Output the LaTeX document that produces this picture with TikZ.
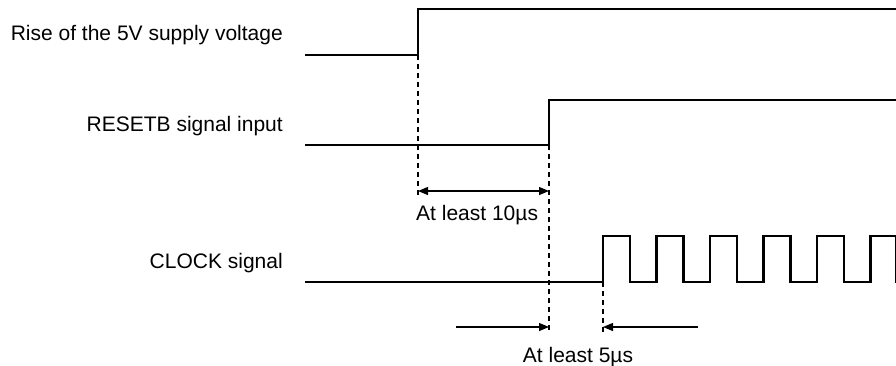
\documentclass[tikz,border=0pt]{standalone}
\usepackage{fontspec}
\setmainfont{Liberation Sans}
\usetikzlibrary{arrows.meta}
\begin{document}
\begin{tikzpicture}[x=1pt,y=-1pt,
  sig/.style={line width=2.6pt,line join=miter,line cap=rect},
  guide/.style={line width=1.2pt,dash pattern=on 5pt off 4pt},
  dim/.style={line width=1.2pt},
  tip/.style={-{Triangle[length=10pt,width=8pt]}},
  lbl/.style={font=\fontsize{21}{24}\selectfont,inner sep=0pt}]
\useasboundingbox (0,0) rectangle (896,365);
% labels
\node[lbl,anchor=base east] (l1) at (283,40) {Rise of the 5V supply voltage};
\node[lbl,anchor=base east] (l2) at (283,131) {RESETB signal input};
\node[lbl,anchor=base east] (l3) at (283,268) {CLOCK signal};
% 5V supply
\coordinate (a0) at (306,55);
\coordinate (a1) at (418,55);
\coordinate (a2) at (418,9);
\coordinate (a3) at (897,9);
\draw[sig] (a0) -- (a1) -- (a2) -- (a3);
% RESETB
\coordinate (b0) at (306,145);
\coordinate (b1) at (549,145);
\coordinate (b2) at (549,100);
\coordinate (b3) at (897,100);
\draw[sig] (b0) -- (b1) -- (b2) -- (b3);
% CLOCK
\coordinate (c0) at (306,282);
\coordinate (c1) at (603,282);
\draw[sig] (c0) -- (c1)
  -- ++(0,-46) -- ++(27,0) -- ++(0,46) -- ++(26.5,0)
  -- ++(0,-46) -- ++(27,0) -- ++(0,46) -- ++(26.5,0)
  -- ++(0,-46) -- ++(27,0) -- ++(0,46) -- ++(26.5,0)
  -- ++(0,-46) -- ++(27,0) -- ++(0,46) -- ++(26.5,0)
  -- ++(0,-46) -- ++(27,0) -- ++(0,46) -- ++(26.5,0)
  -- ++(0,-46) -- ++(26,0) -- ++(0,46) -- ++(5,0);
% guides
\coordinate (g1) at (418,197);
\coordinate (g2) at (549,333);
\coordinate (g3) at (603,333);
\draw[guide] (a1) -- (g1);
\draw[guide] (b1) -- (g2);
\draw[guide] (c1) -- (g3);
% 10us
\coordinate (d1) at (418,191);
\coordinate (d2) at (549,191);
\draw[dim,{Triangle[length=10pt,width=8pt]}-{Triangle[length=10pt,width=8pt]}] (d1) -- (d2);
\node[lbl,anchor=base west] (t1) at (416,220) {At least 10µs};
% 5us
\coordinate (e0) at (456,327);
\coordinate (e1) at (549,327);
\coordinate (e2) at (698,327);
\coordinate (e3) at (603,327);
\draw[dim,tip] (e0) -- (e1);
\draw[dim,tip] (e2) -- (e3);
\node[lbl,anchor=base] (t2) at (578,362) {At least 5µs};
\end{tikzpicture}
\end{document}
